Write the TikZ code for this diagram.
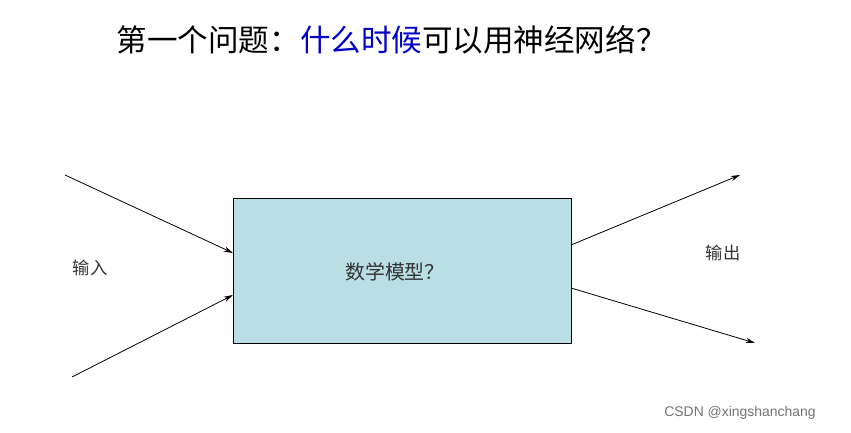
\documentclass[tikz,border=0pt]{standalone}
\usepackage{fontspec}
\newfontfamily\cjk{Noto Sans CJK SC}
\setmainfont{Liberation Sans}
\usetikzlibrary{arrows.meta}
\begin{document}
\begin{tikzpicture}[x=0.02646cm,y=-0.02646cm,
  arr/.style={-{Stealth[length=7pt,width=4pt]},line width=0.6pt},
  lbl/.style={font=\cjk\fontsize{13pt}{15pt}\selectfont,text=black!80}]
\useasboundingbox (0,0) rectangle (851,433);
\fill[white] (0,0) rectangle (851,433);
\node[anchor=west,font=\cjk\fontsize{23pt}{27pt}\selectfont] (title) at (112,40) {第一个问题：\textcolor{blue!80!black}{什么时候}可以用神经网络？};
\node[draw=black,fill={rgb,255:red,185;green,222;blue,228},minimum width=338*0.02646cm,minimum height=145*0.02646cm,anchor=north west,line width=0.5pt] (box) at (233,198) {};
\node[lbl,font=\cjk\fontsize{15pt}{18pt}\selectfont] (m) at (395,272) {数学模型？};
\coordinate (i1) at (65,175);
\coordinate (i2) at (72,377);
\coordinate (o1) at (740,175);
\coordinate (o2) at (755,343);
\coordinate (b1) at (233,253);
\coordinate (b2) at (233,295);
\coordinate (b3) at (571,245);
\coordinate (b4) at (571,288);
\draw[arr] (i1) -- (b1);
\draw[arr] (i2) -- (b2);
\draw[arr] (b3) -- (o1);
\draw[arr] (b4) -- (o2);
\node[lbl] (in) at (90,268) {输入};
\node[lbl] (out) at (723,253) {输出};
\node[font=\fontsize{10.5pt}{12pt}\selectfont,text=black!55] (wm) at (740,413) {CSDN @xingshanchang};
\end{tikzpicture}
\end{document}
